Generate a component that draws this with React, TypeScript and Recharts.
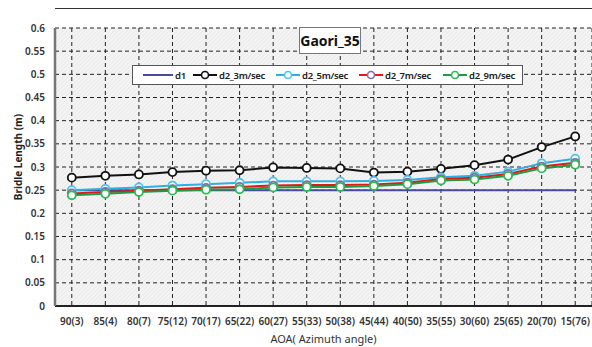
import React from "react";
import {
  LineChart,
  Line,
  XAxis,
  YAxis,
  CartesianGrid,
  Legend,
} from "recharts";

const categories = [
  "90(3)", "85(4)", "80(7)", "75(12)", "70(17)", "65(22)", "60(27)", "55(33)",
  "50(38)", "45(44)", "40(50)", "35(55)", "30(60)", "25(65)", "20(70)", "15(76)",
];
const d1 = [0.25, 0.25, 0.25, 0.25, 0.25, 0.25, 0.25, 0.25, 0.25, 0.25, 0.25, 0.25, 0.25, 0.25, 0.25, 0.25];
const d2_3 = [0.277, 0.281, 0.284, 0.289, 0.292, 0.293, 0.299, 0.298, 0.297, 0.288, 0.29, 0.296, 0.304, 0.316, 0.343, 0.366];
const d2_5 = [0.25, 0.253, 0.256, 0.26, 0.263, 0.266, 0.269, 0.269, 0.269, 0.27, 0.272, 0.278, 0.281, 0.29, 0.308, 0.318];
const d2_7 = [0.243, 0.246, 0.249, 0.252, 0.255, 0.257, 0.26, 0.261, 0.261, 0.262, 0.266, 0.274, 0.277, 0.285, 0.301, 0.309];
const d2_9 = [0.239, 0.242, 0.246, 0.249, 0.251, 0.252, 0.256, 0.257, 0.257, 0.259, 0.263, 0.271, 0.273, 0.281, 0.297, 0.305];
const yTicks = [0, 0.05, 0.1, 0.15, 0.2, 0.25, 0.3, 0.35, 0.4, 0.45, 0.5, 0.55, 0.6];

const series = [
  { key: "d1", name: "d1", color: "#4b4b9b", marker: "", dot: false },
  { key: "d2_3", name: "d2_3m/sec", color: "#111111", marker: "#111111", dot: true },
  { key: "d2_5", name: "d2_5m/sec", color: "#2fb0e0", marker: "#4cc4f0", dot: true },
  { key: "d2_7", name: "d2_7m/sec", color: "#e01818", marker: "#8a6aa8", dot: true },
  { key: "d2_9", name: "d2_9m/sec", color: "#1f9a45", marker: "#2fb854", dot: true },
];
// legend entry offsets inside the box
const legendX = [10, 60, 143, 226, 310];

const data = categories.map((c, i) => ({
  cat: c,
  d1: d1[i],
  d2_3: d2_3[i],
  d2_5: d2_5[i],
  d2_7: d2_7[i],
  d2_9: d2_9[i],
}));

const font = "'Noto Sans', 'DejaVu Sans', sans-serif";

function LegendBox() {
  return (
    <div
      style={{
        position: "relative",
        background: "#fff",
        border: "1px solid #555",
        fontFamily: font,
        fontSize: 9.5,
        fontWeight: 600,
        letterSpacing: -0.3,
        color: "#222",
        width: 389,
        height: 18,
      }}
    >
      {series.map((s, i) => (
        <div
          key={s.key}
          style={{
            position: "absolute",
            left: legendX[i],
            top: 1,
            height: 16,
            display: "flex",
            alignItems: "center",
            gap: 2,
            whiteSpace: "nowrap",
          }}
        >
          <svg width={s.dot ? 24 : 30} height={10}>
            <line x1={0} y1={5} x2={s.dot ? 24 : 30} y2={5} stroke={s.color} strokeWidth={2} />
            {s.dot && <circle cx={12} cy={5} r={3.5} fill="#fff" stroke={s.marker} strokeWidth={1.6} />}
          </svg>
          <span>{s.name}</span>
        </div>
      ))}
    </div>
  );
}

function YTitle(props: any) {
  const vb = props.viewBox || {};
  const cx = 18;
  const cy = 157;
  return (
    <text
      x={cx}
      y={cy}
      transform={`rotate(-90 ${cx} ${cy})`}
      textAnchor="middle"
      dominantBaseline="central"
      style={{ fontSize: 10, fill: "#222", fontFamily: font, fontWeight: 700 }}
      data-vb={vb.x}
    >
      Bridle Length (m)
    </text>
  );
}

export default function App() {
  return (
    <div style={{ position: "absolute", left: 0, top: 0, width: 592, height: 347, background: "#fff" }}>
      <LineChart
        width={592}
        height={347}
        data={data}
        margin={{ top: 8, right: 0, left: 0, bottom: 0 }}
      >
        <defs>
          <pattern id="hatch" width="3" height="3" patternUnits="userSpaceOnUse" patternTransform="rotate(45)">
            <rect width="3" height="3" fill="#f4f4f4" />
            <line x1="0" y1="0" x2="0" y2="3" stroke="#e0e0e0" strokeWidth="1" />
          </pattern>
        </defs>
        <CartesianGrid
          fill="url(#hatch)"
          stroke="#222"
          strokeDasharray="4 3"
          strokeWidth={1}
        />
        <XAxis
          dataKey="cat"
          scale="band"
          interval={0}
          axisLine={{ stroke: "#222", strokeWidth: 2 }}
          tickLine={false}
          tickSize={0}
          tickMargin={12}
          height={41}
          tick={{ fontSize: 10, fill: "#333", fontFamily: font, fontWeight: 600 }}
          label={{
            value: "AOA( Azimuth angle)",
            position: "insideBottom",
            offset: 4,
            style: { fontSize: 11, fill: "#333", fontFamily: font },
          }}
        />
        <YAxis
          domain={[0, 0.6]}
          ticks={yTicks}
          interval={0}
          width={55}
          axisLine={{ stroke: "#777", strokeWidth: 2.5 }}
          tickLine={false}
          tickSize={0}
          tickMargin={10}
          tick={{ fontSize: 10, fill: "#333", fontFamily: font, fontWeight: 600 }}
          tickFormatter={(v: number) => String(v)}
          label={<YTitle />}
        />
        <Legend
          verticalAlign="top"
          align="left"
          content={() => <LegendBox />}
          wrapperStyle={{ position: "absolute", left: 132, top: 65, width: "auto" }}
        />
        {series.map((s) => (
          <Line
            key={s.key}
            type="linear"
            dataKey={s.key}
            name={s.name}
            stroke={s.color}
            strokeWidth={2}
            dot={s.dot ? { r: 4, fill: "#fff", stroke: s.marker, strokeWidth: 1.8 } : false}
            isAnimationActive={false}
          />
        ))}
      </LineChart>
      <div
        style={{
          position: "absolute",
          left: 55,
          top: 8,
          width: 537,
          height: 0,
          borderTop: "1.5px solid #333",
        }}
      />
      <div
        style={{
          position: "absolute",
          left: 299,
          top: 27,
          width: 60,
          height: 25,
          background: "#fff",
          border: "1px solid #777",
          display: "flex",
          alignItems: "center",
          justifyContent: "center",
          fontFamily: font,
          fontSize: 14,
          fontWeight: 700,
          color: "#111",
        }}
      >
        Gaori_35
      </div>
    </div>
  );
}
